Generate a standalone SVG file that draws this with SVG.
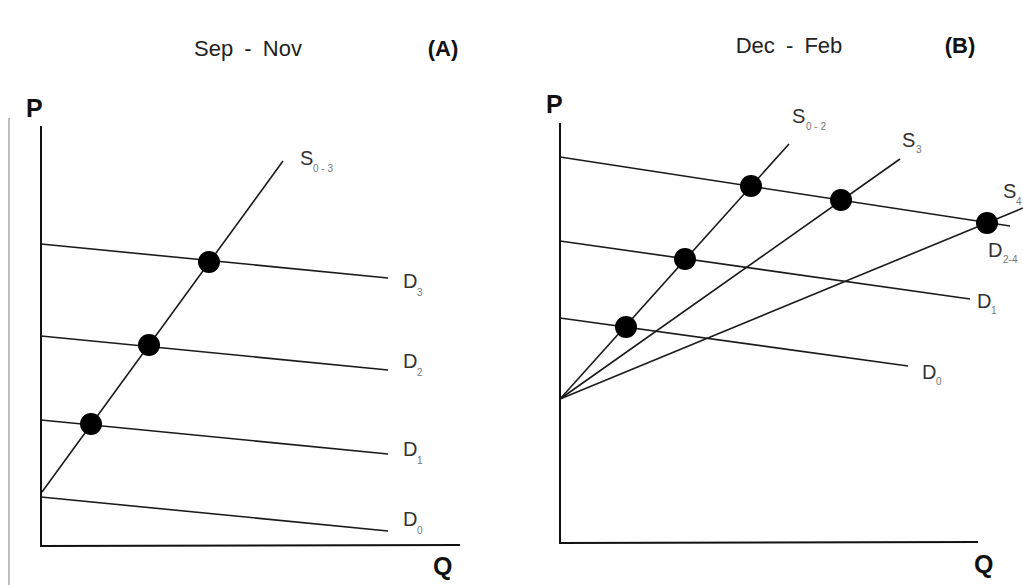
<svg xmlns="http://www.w3.org/2000/svg" width="1023" height="585" viewBox="0 0 1023 585">
<style>
.ax{stroke:#111;stroke-width:2;fill:none}
.ln{stroke:#1a1a1a;stroke-width:1.6;fill:none}
.dot{fill:#000}
.t{font-family:"Liberation Sans",Arial,sans-serif;fill:#222}
.title{font-size:22px;word-spacing:5px}
.b{font-weight:bold;fill:#111}
.ax-l{font-size:25px}
.lab{font-size:20px;fill:#333}
.sub{font-size:10px;fill:#777}
</style>
<rect width="1023" height="585" fill="#fff"/>
<line x1="9" y1="118" x2="9" y2="585" stroke="#aaa" stroke-width="1.5"/>

<g id="panelA">
  <text class="t title" x="248" y="56" text-anchor="middle">Sep - Nov</text>
  <text class="t b" x="443" y="56" text-anchor="middle" font-size="22">(A)</text>
  <g id="axesA">
    <polyline class="ax" points="41,126 41,546 460,545"/>
    <text class="t b ax-l" x="26" y="117">P</text>
    <text class="t b ax-l" x="433" y="575">Q</text>
  </g>
  <g id="connectorsA">
    <line class="ln" x1="41" y1="244" x2="388" y2="278"/>
    <line class="ln" x1="41" y1="336" x2="388" y2="370"/>
    <line class="ln" x1="41" y1="420" x2="388" y2="454"/>
    <line class="ln" x1="41" y1="497" x2="388" y2="531"/>
    <line class="ln" x1="42" y1="492" x2="283" y2="161"/>
  </g>
  <g id="pointsA">
    <circle class="dot" cx="209" cy="262" r="11"/>
    <circle class="dot" cx="149" cy="345" r="11"/>
    <circle class="dot" cx="91" cy="424" r="11"/>
  </g>
  <g id="labelsA">
    <text class="t lab" x="300" y="165">S</text><text class="t sub" x="313" y="172">0 - 3</text>
    <text class="t lab" x="403" y="288">D</text><text class="t sub" x="417" y="296">3</text>
    <text class="t lab" x="403" y="368">D</text><text class="t sub" x="417" y="376">2</text>
    <text class="t lab" x="403" y="456">D</text><text class="t sub" x="417" y="464">1</text>
    <text class="t lab" x="403" y="526">D</text><text class="t sub" x="417" y="534">0</text>
  </g>
</g>

<g id="panelB">
  <text class="t title" x="789" y="53" text-anchor="middle">Dec - Feb</text>
  <text class="t b" x="960" y="53" text-anchor="middle" font-size="22">(B)</text>
  <g id="axesB">
    <polyline class="ax" points="560,123 560,543 978,542"/>
    <text class="t b ax-l" x="546" y="113">P</text>
    <text class="t b ax-l" x="974" y="573">Q</text>
  </g>
  <g id="connectorsB">
    <line class="ln" x1="560" y1="157" x2="1010" y2="226"/>
    <line class="ln" x1="560" y1="241" x2="970" y2="299"/>
    <line class="ln" x1="560" y1="318" x2="908" y2="366"/>
    <line class="ln" x1="560" y1="399" x2="789" y2="144"/>
    <line class="ln" x1="560" y1="399" x2="900" y2="159"/>
    <line class="ln" x1="560" y1="399" x2="1023" y2="208"/>
  </g>
  <g id="pointsB">
    <circle class="dot" cx="751" cy="186" r="11"/>
    <circle class="dot" cx="841" cy="200" r="11"/>
    <circle class="dot" cx="987" cy="223" r="11"/>
    <circle class="dot" cx="685" cy="259" r="11"/>
    <circle class="dot" cx="626" cy="327" r="11"/>
  </g>
  <g id="labelsB">
    <text class="t lab" x="792" y="123">S</text><text class="t sub" x="806" y="130">0 - 2</text>
    <text class="t lab" x="902" y="147">S</text><text class="t sub" x="916" y="153">3</text>
    <text class="t lab" x="1003" y="198">S</text><text class="t sub" x="1016" y="205">4</text>
    <text class="t lab" x="988" y="257">D</text><text class="t sub" x="1003" y="263">2-4</text>
    <text class="t lab" x="977" y="308">D</text><text class="t sub" x="991" y="314">1</text>
    <text class="t lab" x="922" y="379">D</text><text class="t sub" x="936" y="385">0</text>
  </g>
</g>
</svg>
